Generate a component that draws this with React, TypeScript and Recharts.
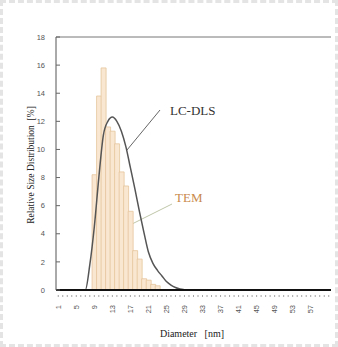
import React from 'react';
import { ComposedChart, Bar, Line, XAxis, YAxis, ReferenceLine, Customized } from 'recharts';

// diameter classes [nm]
const diameters = [
  1, 2, 3, 4, 5, 6, 7, 8, 9, 10, 11, 12, 13, 14, 15, 16, 17, 18, 19, 20,
  21, 22, 23, 24, 25, 26, 27, 28, 29, 30, 31, 32, 33, 34, 35, 36, 37, 38, 39, 40,
  41, 42, 43, 44, 45, 46, 47, 48, 49, 50, 51, 52, 53, 54, 55, 56, 57, 58, 59, 60, 61,
];

// TEM histogram [%]
const temValues = [
  0, 0, 0, 0, 0, 0, 0, 0, 8.2, 13.8, 15.8, 11.6, 11.3, 10.4, 8.4, 7.4, 5.6, 2.8, 2.2, 0.8,
  0.7, 0.4, 0.3, 0, 0, 0, 0, 0, 0, 0, 0, 0, 0, 0, 0, 0, 0, 0, 0, 0,
  0, 0, 0, 0, 0, 0, 0, 0, 0, 0, 0, 0, 0, 0, 0, 0, 0, 0, 0, 0, 0,
];

// LC-DLS distribution [%]
const dlsValues = [
  0, 0, 0, 0, 0, 0, 0, 1.8, 4.5, 8.0, 11.0, 12.0, 12.3, 12.0, 11.3, 10.2, 8.7, 7.2, 5.6, 4.1,
  2.7, 1.9, 1.4, 1.0, 0.6, 0.35, 0.18, 0.07, 0.02, 0, 0, 0, 0, 0, 0, 0, 0, 0, 0, 0,
  0, 0, 0, 0, 0, 0, 0, 0, 0, 0, 0, 0, 0, 0, 0, 0, 0, 0, 0, 0, 0,
];

const yTicks = [0, 2, 4, 6, 8, 10, 12, 14, 16, 18];

const data = diameters.map((d, i) => ({ d, tem: temValues[i], dls: dlsValues[i] }));

const serif = '"Liberation Serif", "DejaVu Serif", serif';

const XTick = (props: any) => {
  const { x, y, payload, index } = props;
  const showLabel = index % 4 === 0 && index < 60;
  return (
    <g>
      <line x1={x} x2={x} y1={y - 3} y2={y - 1} stroke="#666" strokeWidth={0.6} />
      {showLabel && (
        <text
          x={x + 2.5}
          y={y + 7}
          transform={`rotate(-90 ${x + 2.5} ${y + 7})`}
          textAnchor="end"
          fontSize={7.5}
          fill="#555"
          fontFamily="Arial, sans-serif"
        >
          {payload.value}
        </text>
      )}
    </g>
  );
};

const Notes = () => (
  <g fontFamily={serif}>
    <text x={170} y={115} fontSize={13} fill="#333">LC-DLS</text>
    <line x1={160} y1={110} x2={127} y2={150} stroke="#666" strokeWidth={1} />
    <text x={175} y={202} fontSize={13} fill="#c98a4b">TEM</text>
    <line x1={172} y1={204} x2={132} y2={224} stroke="#bfc6a8" strokeWidth={1} />
    <text
      x={34}
      y={165}
      transform="rotate(-90 34 165)"
      textAnchor="middle"
      fontSize={9.5}
      fill="#222"
    >
      {'Relative Size Distribution\u00a0\u00a0[%]'}
    </text>
    <text x={192} y={337} textAnchor="middle" fontSize={10} fill="#222">
      {'Diameter\u00a0\u00a0\u00a0[nm]'}
    </text>
  </g>
);

export default function App() {
  return (
    <div
      style={{
        position: 'absolute',
        left: 0,
        top: 0,
        width: 338,
        height: 347,
        background: '#fff',
        boxSizing: 'border-box',
        border: '3px dashed #e4e4e4',
      }}
    >
      <div style={{ position: 'absolute', left: -3, top: -3 }}>
        <ComposedChart
          width={338}
          height={347}
          data={data}
          margin={{ top: 37, right: 7, left: 0, bottom: 27 }}
          barCategoryGap={0}
          barGap={0}
        >
          <XAxis
            dataKey="d"
            interval={0}
            tick={<XTick />}
            tickLine={false}
            axisLine={{ stroke: '#111', strokeWidth: 2 }}
            height={30}
          />
          <YAxis
            domain={[0, 18]}
            ticks={yTicks}
            width={56}
            tickSize={-4}
            tickMargin={15}
            tickLine={{ stroke: '#666' }}
            axisLine={{ stroke: '#555' }}
            tick={{ fontSize: 7.5, fill: '#555', fontFamily: 'Arial, sans-serif' }}
          />
          <YAxis yAxisId="r" orientation="right" width={0} tick={false} tickLine={false} axisLine={{ stroke: '#777' }} />
          <ReferenceLine y={18} stroke="#777" />
          <Bar dataKey="tem" fill="#fae7d2" stroke="#e5c59c" strokeWidth={0.8} isAnimationActive={false} />
          <Line
            type="monotone"
            dataKey="dls"
            stroke="#555"
            strokeWidth={1.5}
            dot={false}
            isAnimationActive={false}
          />
          <Customized component={Notes} />
        </ComposedChart>
      </div>
    </div>
  );
}
